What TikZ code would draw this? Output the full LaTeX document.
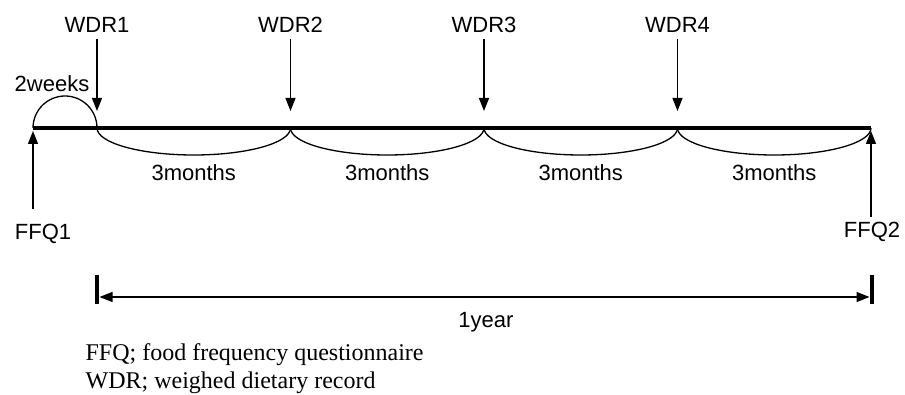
\documentclass[tikz,border=0pt]{standalone}
\usepackage{fontspec}
\setmainfont{Liberation Sans}
\newfontfamily\legendfont{Liberation Serif}
\usetikzlibrary{arrows.meta}
\usetikzlibrary{calc}
\usetikzlibrary{positioning}

\begin{document}
\begin{tikzpicture}[x=1pt,y=-1pt,>={Triangle[length=13pt,width=10pt]},line width=1.3pt]
	\tikzstyle{lbl}=[inner sep=0pt,anchor=base,font=\fontsize{22}{22}\selectfont]
	\tikzstyle{note}=[inner sep=0pt,anchor=base west,font=\legendfont\fontsize{24}{24}\selectfont]
	\tikzstyle{pin}=[->,line width=1.3pt]
	\tikzstyle{bar}=[line width=3.5pt]
	\useasboundingbox (0,0) rectangle (905,395);
	% points on the time line
	\coordinate (T0) at (33,128);
	\coordinate (T1) at (97,128);
	\coordinate (T2) at (290.5,128);
	\coordinate (T3) at (484,128);
	\coordinate (T4) at (677.5,128);
	\coordinate (T5) at (871,128);
	% arcs
	\draw (T0) arc[start angle=180,end angle=360,radius=32];
	\draw (T1) arc[start angle=180,end angle=0,x radius=96.75,y radius=27];
	\draw (T2) arc[start angle=180,end angle=0,x radius=96.75,y radius=27];
	\draw (T3) arc[start angle=180,end angle=0,x radius=96.75,y radius=27];
	\draw (T4) arc[start angle=180,end angle=0,x radius=96.75,y radius=27];
	\draw[line width=4pt] (T0) -- (T5);
	% WDR
	\node[lbl] (W1) at (97,33) {WDR1};
	\node[lbl] (W2) at (290.5,33) {WDR2};
	\node[lbl] (W3) at (484,33) {WDR3};
	\node[lbl] (W4) at (677.5,33) {WDR4};
	\coordinate (P1) at (97,111);
	\coordinate (P2) at (290.5,111);
	\coordinate (P3) at (484,111);
	\coordinate (P4) at (677.5,111);
	\draw[pin,shorten <=5pt] (W1) -- (P1);
	\draw[pin,shorten <=5pt] (W2) -- (P2);
	\draw[pin,shorten <=5pt] (W3) -- (P3);
	\draw[pin,shorten <=5pt] (W4) -- (P4);
	% FFQ
	\node[lbl] (F1) at (43,240) {FFQ1};
	\node[lbl] (F2) at (872,238) {FFQ2};
	\coordinate (Q1) at (33,131);
	\coordinate (Q2) at (871,131);
	\draw[pin,shorten <=15pt] (F1.north -| Q1) -- (Q1);
	\draw[pin,shorten <=5pt] (F2.north -| Q2) -- (Q2);
	% spans
	\node[lbl] (TW) at (52,92) {2weeks};
	\node[lbl] (M1) at ($(T1)!0.5!(T2)+(0,53)$) {3months};
	\node[lbl] (M2) at ($(T2)!0.5!(T3)+(0,53)$) {3months};
	\node[lbl] (M3) at ($(T3)!0.5!(T4)+(0,53)$) {3months};
	\node[lbl] (M4) at ($(T4)!0.5!(T5)+(0,53)$) {3months};
	% one year
	\coordinate (B0) at (97,275);
	\coordinate (B1) at (97,304);
	\coordinate (B2) at (872,275);
	\coordinate (B3) at (872,304);
	\draw[bar] (B0) -- (B1);
	\draw[bar] (B2) -- (B3);
	\coordinate (L) at (99.5,297);
	\coordinate (R) at (869.5,297);
	\draw[<->] (L) -- (R);
	\node[lbl] (Y) at (486,327) {1year};
	% legend
	\node[note] (N1) at (85,360) {FFQ; food frequency questionnaire};
	\node[note] (N2) at (85,388) {WDR; weighed dietary record};
\end{tikzpicture}
\end{document}
